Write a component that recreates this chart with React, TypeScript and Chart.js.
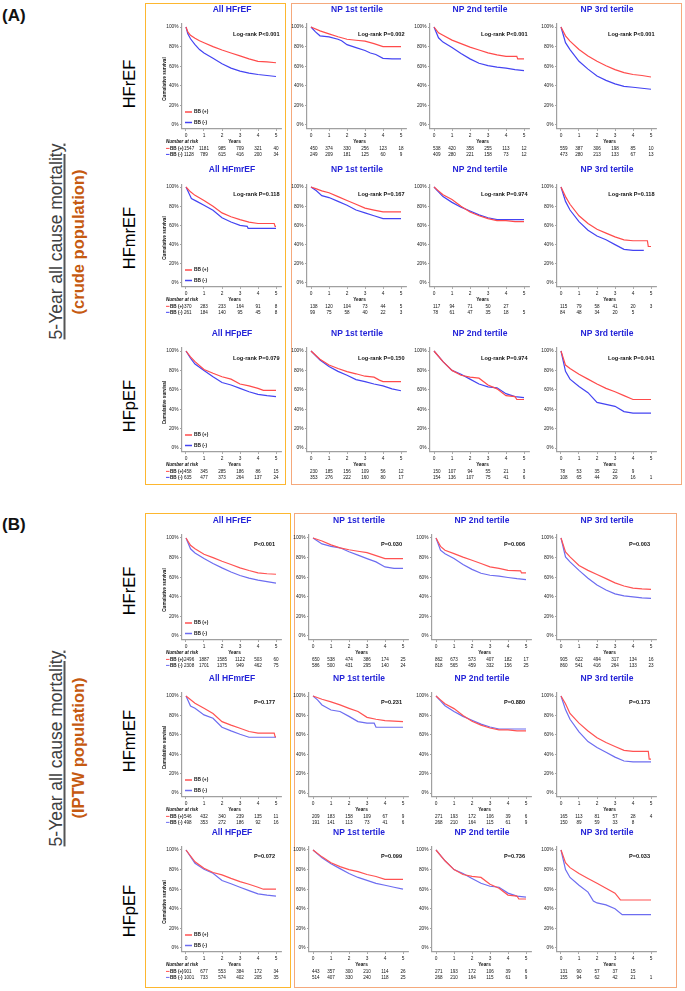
import React, { useEffect, useRef } from 'react';
import { Chart, registerables } from 'chart.js';
Chart.register(...registerables);

const FONT = 'Arial, "Liberation Sans", Helvetica, sans-serif';
const years = [0, 1, 2, 3, 4, 5];
const yTickValues = [0, 0.2, 0.4, 0.6, 0.8, 1];
const groupLabels = ['BB (+)', 'BB (-)'];
const rowLabels = ['HFrEF', 'HFmrEF', 'HFpEF'];
const panelTitles = [
  ['All HFrEF', 'NP 1st tertile', 'NP 2nd tertile', 'NP 3rd tertile'],
  ['All HFmrEF', 'NP 1st tertile', 'NP 2nd tertile', 'NP 3rd tertile'],
  ['All HFpEF', 'NP 1st tertile', 'NP 2nd tertile', 'NP 3rd tertile'],
];
const pValuesCrude = [
  ['P<0.001', 'P=0.002', 'P<0.001', 'P<0.001'],
  ['P=0.118', 'P=0.167', 'P=0.974', 'P=0.118'],
  ['P=0.079', 'P=0.150', 'P=0.974', 'P=0.041'],
];
const pValuesIptw = [
  ['P<0.001', 'P=0.030', 'P=0.006', 'P=0.003'],
  ['P=0.177', 'P=0.231', 'P=0.880', 'P=0.173'],
  ['P=0.072', 'P=0.099', 'P=0.736', 'P=0.033'],
];

type Pt = [number, number];
// ---- crude population curves (years, survival) ----
const crudeRefAllPos: Pt[] = [[0,1],[0.1,0.95],[0.25,0.915],[0.5,0.885],[0.75,0.86],[1,0.84],[1.5,0.8],[2,0.765],[2.5,0.735],[3,0.705],[3.5,0.675],[4,0.65],[4.5,0.645],[5,0.635]];
const crudeRefAllNeg: Pt[] = [[0,1],[0.1,0.93],[0.25,0.88],[0.5,0.82],[0.75,0.77],[1,0.735],[1.5,0.68],[2,0.625],[2.5,0.58],[3,0.55],[3.5,0.53],[4,0.515],[4.5,0.505],[5,0.495]];
const crudeRefNp1Pos: Pt[] = [[0,1],[0.5,0.96],[1,0.93],[1.5,0.9],[2,0.875],[2.5,0.865],[3,0.855],[3.5,0.83],[4,0.8],[5,0.8]];
const crudeRefNp1Neg: Pt[] = [[0,1],[0.25,0.95],[0.5,0.91],[1,0.9],[1.5,0.875],[1.7,0.86],[2,0.82],[2.5,0.79],[3,0.76],[3.3,0.735],[3.6,0.72],[4,0.68],[4.5,0.675],[5,0.675]];
const crudeRefNp2Pos: Pt[] = [[0,1],[0.25,0.94],[0.5,0.915],[1,0.866],[1.5,0.83],[2,0.795],[2.5,0.765],[3,0.736],[3.5,0.715],[4,0.7],[4.6,0.7],[4.65,0.675],[5,0.675]];
const crudeRefNp2Neg: Pt[] = [[0,1],[0.25,0.89],[0.5,0.846],[1,0.79],[1.5,0.73],[2,0.675],[2.5,0.63],[3,0.606],[3.5,0.59],[4,0.58],[4.5,0.565],[5,0.555]];
const crudeRefNp3Pos: Pt[] = [[0,1],[0.25,0.91],[0.5,0.856],[1,0.77],[1.5,0.705],[2,0.65],[2.5,0.605],[3,0.565],[3.5,0.535],[4,0.515],[4.5,0.505],[5,0.49]];
const crudeRefNp3Neg: Pt[] = [[0,1],[0.25,0.84],[0.5,0.77],[1,0.65],[1.5,0.57],[2,0.5],[2.5,0.455],[3,0.42],[3.5,0.395],[4,0.385],[4.5,0.375],[5,0.365]];

const crudeMrAllPos: Pt[] = [[0,1],[0.25,0.95],[0.5,0.913],[1,0.86],[1.5,0.8],[2,0.73],[2.5,0.69],[3,0.66],[3.5,0.635],[4,0.62],[4.9,0.62],[4.95,0.59],[5,0.59]];
const crudeMrAllNeg: Pt[] = [[0,1],[0.3,0.88],[0.6,0.85],[1,0.81],[1.5,0.757],[2,0.68],[2.5,0.635],[3,0.6],[3.4,0.59],[3.45,0.57],[5,0.57]];
const crudeMrNp1Pos: Pt[] = [[0,1],[0.3,0.98],[0.6,0.96],[1,0.94],[1.5,0.9],[2,0.86],[2.5,0.82],[3,0.78],[3.5,0.76],[4,0.74],[5,0.74]];
const crudeMrNp1Neg: Pt[] = [[0,1],[0.3,0.96],[0.6,0.91],[1,0.89],[1.5,0.85],[2,0.81],[2.5,0.76],[3,0.73],[3.5,0.7],[4,0.67],[5,0.67]];
const crudeMrNp2Pos: Pt[] = [[0,1],[0.25,0.96],[0.5,0.92],[1,0.87],[1.5,0.8],[2,0.74],[2.5,0.7],[3,0.67],[3.5,0.65],[4,0.65],[4.5,0.64],[5,0.64]];
const crudeMrNp2Neg: Pt[] = [[0,1],[0.25,0.95],[0.5,0.9],[1,0.84],[1.5,0.79],[2,0.75],[2.5,0.71],[3,0.68],[3.5,0.66],[4,0.66],[5,0.66]];
const crudeMrNp3Pos: Pt[] = [[0,1],[0.25,0.9],[0.5,0.82],[1,0.7],[1.5,0.62],[2,0.56],[2.5,0.52],[3,0.48],[3.5,0.45],[4,0.44],[4.8,0.44],[4.85,0.38],[5,0.38]];
const crudeMrNp3Neg: Pt[] = [[0,1],[0.25,0.85],[0.5,0.76],[1,0.64],[1.5,0.55],[2,0.49],[2.5,0.45],[3,0.4],[3.5,0.35],[4,0.34],[4.6,0.34]];

const crudePefAllPos: Pt[] = [[0,1],[0.25,0.94],[0.5,0.89],[1,0.81],[1.5,0.77],[2,0.735],[2.5,0.71],[3,0.66],[3.5,0.64],[4,0.615],[4.3,0.595],[5,0.595]];
const crudePefAllNeg: Pt[] = [[0,1],[0.25,0.925],[0.5,0.866],[1,0.8],[1.5,0.735],[2,0.675],[2.5,0.65],[3,0.615],[3.5,0.58],[4,0.553],[4.5,0.54],[5,0.53]];
const crudePefNp1Pos: Pt[] = [[0,1],[0.5,0.915],[1,0.856],[1.5,0.82],[2,0.787],[2.5,0.765],[3,0.74],[3.5,0.73],[3.8,0.7],[4,0.684],[5,0.684]];
const crudePefNp1Neg: Pt[] = [[0,1],[0.5,0.907],[1,0.84],[1.5,0.79],[2,0.75],[2.5,0.705],[3,0.684],[3.5,0.66],[4,0.64],[4.5,0.61],[5,0.59]];
const crudePefNp2Pos: Pt[] = [[0,1],[0.5,0.89],[1,0.8],[1.5,0.75],[2,0.73],[2.5,0.72],[3,0.65],[3.5,0.61],[4,0.54],[4.5,0.53],[4.6,0.5],[5,0.5]];
const crudePefNp2Neg: Pt[] = [[0,1],[0.5,0.89],[1,0.8],[1.5,0.76],[2,0.71],[2.5,0.66],[3,0.63],[3.5,0.62],[4,0.56],[4.5,0.53],[5,0.52]];
const crudePefNp3Pos: Pt[] = [[0,1],[0.25,0.855],[0.5,0.82],[1,0.76],[1.5,0.71],[2,0.66],[2.5,0.615],[3,0.58],[3.5,0.54],[4,0.5],[5,0.5]];
const crudePefNp3Neg: Pt[] = [[0,1],[0.25,0.79],[0.5,0.71],[1,0.635],[1.5,0.57],[2,0.47],[2.5,0.45],[3,0.43],[3.5,0.375],[4,0.36],[5,0.36]];

// ---- IPTW population curves ----
const iptwRefAllPos: Pt[] = [[0,1],[0.25,0.925],[0.5,0.89],[1,0.834],[1.5,0.8],[2,0.763],[2.5,0.73],[3,0.695],[3.5,0.668],[4,0.644],[4.5,0.635],[5,0.63]];
const iptwRefAllNeg: Pt[] = [[0,1],[0.25,0.89],[0.5,0.847],[1,0.79],[1.5,0.74],[2,0.695],[2.5,0.653],[3,0.617],[3.5,0.59],[4,0.57],[4.5,0.555],[5,0.54]];
const iptwRefNp1Pos: Pt[] = [[0,1],[0.5,0.97],[1,0.93],[1.5,0.9],[2,0.88],[2.5,0.865],[3,0.85],[3.5,0.82],[4,0.79],[5,0.79]];
const iptwRefNp1Neg: Pt[] = [[0,1],[0.25,0.97],[0.5,0.94],[1,0.915],[1.5,0.9],[2,0.86],[2.5,0.825],[3,0.79],[3.5,0.756],[4,0.705],[4.5,0.69],[5,0.69]];
const iptwRefNp2Pos: Pt[] = [[0,1],[0.25,0.915],[0.5,0.875],[1,0.84],[1.5,0.805],[2,0.773],[2.5,0.74],[3,0.705],[3.5,0.69],[4,0.67],[4.7,0.665],[4.75,0.644],[5,0.644]];
const iptwRefNp2Neg: Pt[] = [[0,1],[0.25,0.875],[0.5,0.84],[1,0.79],[1.5,0.73],[2,0.68],[2.5,0.64],[3,0.62],[3.5,0.61],[4,0.597],[4.5,0.585],[5,0.576]];
const iptwRefNp3Pos: Pt[] = [[0,1],[0.25,0.858],[0.5,0.807],[1,0.72],[1.5,0.67],[2,0.627],[2.5,0.585],[3,0.542],[3.5,0.51],[4,0.488],[4.5,0.48],[5,0.475]];
const iptwRefNp3Neg: Pt[] = [[0,1],[0.25,0.807],[0.5,0.756],[1,0.67],[1.5,0.59],[2,0.52],[2.5,0.47],[3,0.43],[3.5,0.41],[4,0.4],[4.5,0.39],[5,0.383]];

const iptwMrAllPos: Pt[] = [[0,1],[0.5,0.925],[1,0.873],[1.5,0.82],[2,0.736],[2.5,0.7],[3,0.668],[3.5,0.634],[4,0.617],[4.9,0.617],[4.95,0.58],[5,0.58]];
const iptwMrAllNeg: Pt[] = [[0,1],[0.25,0.897],[0.5,0.873],[1,0.805],[1.5,0.77],[2,0.678],[2.5,0.64],[3,0.606],[3.5,0.575],[5,0.575]];
const iptwMrNp1Pos: Pt[] = [[0,1],[0.5,0.966],[1,0.94],[1.5,0.908],[2,0.873],[2.5,0.84],[3,0.78],[3.5,0.76],[4,0.747],[5,0.736]];
const iptwMrNp1Neg: Pt[] = [[0,1],[0.25,0.96],[0.5,0.908],[1,0.856],[1.5,0.84],[2,0.79],[2.5,0.736],[3,0.72],[3.4,0.72],[3.5,0.678],[5,0.678]];
const iptwMrNp2Pos: Pt[] = [[0,1],[0.25,0.96],[0.5,0.92],[1,0.87],[1.5,0.8],[2,0.74],[2.5,0.7],[3,0.67],[3.5,0.65],[4,0.65],[4.5,0.64],[5,0.64]];
const iptwMrNp2Neg: Pt[] = [[0,1],[0.25,0.95],[0.5,0.9],[1,0.84],[1.5,0.79],[2,0.75],[2.5,0.71],[3,0.68],[3.5,0.66],[4,0.66],[5,0.66]];
const iptwMrNp3Pos: Pt[] = [[0,1],[0.25,0.92],[0.5,0.82],[1,0.72],[1.5,0.64],[2,0.57],[2.5,0.52],[3,0.48],[3.5,0.44],[4,0.43],[4.85,0.43],[4.9,0.35],[5,0.35]];
const iptwMrNp3Neg: Pt[] = [[0,1],[0.25,0.86],[0.5,0.76],[1,0.63],[1.5,0.53],[2,0.47],[2.5,0.42],[3,0.37],[3.5,0.33],[4,0.32],[5,0.32]];

const iptwPefAllPos: Pt[] = [[0,1],[0.5,0.88],[1,0.814],[1.5,0.77],[2,0.746],[2.5,0.71],[3,0.678],[3.5,0.65],[4,0.62],[4.3,0.6],[5,0.6]];
const iptwPefAllNeg: Pt[] = [[0,1],[0.5,0.864],[1,0.803],[1.5,0.763],[2,0.688],[2.5,0.655],[3,0.62],[3.5,0.586],[4,0.553],[4.5,0.54],[5,0.53]];
const iptwPefNp1Pos: Pt[] = [[0,1],[0.5,0.93],[1,0.87],[1.5,0.83],[2,0.8],[2.5,0.78],[3,0.75],[3.5,0.73],[4,0.7],[5,0.7]];
const iptwPefNp1Neg: Pt[] = [[0,1],[0.5,0.92],[1,0.86],[1.5,0.81],[2,0.76],[2.5,0.72],[3,0.69],[3.5,0.66],[4,0.64],[4.5,0.62],[5,0.6]];
const iptwPefNp2Pos: Pt[] = [[0,1],[0.5,0.89],[1,0.8],[1.5,0.75],[2,0.73],[2.5,0.72],[3,0.65],[3.5,0.61],[4,0.54],[4.5,0.53],[4.6,0.5],[5,0.5]];
const iptwPefNp2Neg: Pt[] = [[0,1],[0.5,0.89],[1,0.8],[1.5,0.76],[2,0.71],[2.5,0.66],[3,0.63],[3.5,0.62],[4,0.56],[4.5,0.53],[5,0.52]];
const iptwPefNp3Pos: Pt[] = [[0,1],[0.25,0.87],[0.5,0.82],[1,0.76],[1.5,0.71],[2,0.66],[2.5,0.61],[3,0.56],[3.3,0.49],[5,0.49]];
const iptwPefNp3Neg: Pt[] = [[0,1],[0.25,0.8],[0.5,0.72],[1,0.64],[1.5,0.57],[1.8,0.48],[2,0.46],[2.5,0.44],[3,0.4],[3.4,0.34],[5,0.34]];

// ---- numbers at risk (BB+ row, BB- row) ----
type Risk = (number | null)[][];
const crudeRefAllRisk: Risk = [[1547,1181,985,709,321,40],[1128,789,615,416,200,34]];
const crudeRefNp1Risk: Risk = [[450,374,330,256,123,18],[249,209,181,125,60,9]];
const crudeRefNp2Risk: Risk = [[538,420,358,255,113,12],[409,280,221,158,73,12]];
const crudeRefNp3Risk: Risk = [[559,387,306,198,85,10],[473,280,213,133,67,13]];
const crudeMrAllRisk: Risk = [[370,283,233,164,91,8],[261,184,140,95,45,8]];
const crudeMrNp1Risk: Risk = [[138,120,104,73,44,5],[99,75,58,40,22,3]];
const crudeMrNp2Risk: Risk = [[117,94,71,50,27,null],[78,61,47,35,18,5]];
const crudeMrNp3Risk: Risk = [[115,79,58,41,20,3],[84,48,34,20,5,null]];
const crudePefAllRisk: Risk = [[458,345,285,186,86,15],[635,477,373,264,137,24]];
const crudePefNp1Risk: Risk = [[230,185,156,109,56,12],[353,276,222,160,80,17]];
const crudePefNp2Risk: Risk = [[150,107,94,55,21,3],[154,136,107,75,41,6]];
const crudePefNp3Risk: Risk = [[78,53,35,22,9,null],[108,65,44,29,16,1]];
const iptwRefAllRisk: Risk = [[2496,1887,1585,1122,503,60],[2308,1701,1375,949,462,75]];
const iptwRefNp1Risk: Risk = [[650,538,474,386,174,25],[586,500,431,295,140,24]];
const iptwRefNp2Risk: Risk = [[862,673,573,407,182,17],[818,565,459,332,156,25]];
const iptwRefNp3Risk: Risk = [[905,622,494,317,134,16],[860,541,416,264,133,23]];
const iptwMrAllRisk: Risk = [[546,432,340,239,135,11],[498,353,272,186,92,16]];
const iptwMrNp1Risk: Risk = [[209,183,158,109,67,9],[191,141,113,73,41,6]];
const iptwMrNp2Risk: Risk = [[271,193,172,106,39,6],[268,210,164,115,61,9]];
const iptwMrNp3Risk: Risk = [[165,113,81,57,28,4],[150,89,59,33,8,null]];
const iptwPefAllRisk: Risk = [[901,677,553,384,172,34],[1001,733,574,402,205,35]];
const iptwPefNp1Risk: Risk = [[443,357,300,210,114,26],[514,407,330,240,118,25]];
const iptwPefNp2Risk: Risk = [[271,193,172,106,39,6],[268,210,164,115,61,9]];
const iptwPefNp3Risk: Risk = [[131,90,57,37,15,null],[155,94,62,42,21,1]];

const crudeCurves: Pt[][][][] = [
  [[crudeRefAllPos, crudeRefAllNeg], [crudeRefNp1Pos, crudeRefNp1Neg], [crudeRefNp2Pos, crudeRefNp2Neg], [crudeRefNp3Pos, crudeRefNp3Neg]],
  [[crudeMrAllPos, crudeMrAllNeg], [crudeMrNp1Pos, crudeMrNp1Neg], [crudeMrNp2Pos, crudeMrNp2Neg], [crudeMrNp3Pos, crudeMrNp3Neg]],
  [[crudePefAllPos, crudePefAllNeg], [crudePefNp1Pos, crudePefNp1Neg], [crudePefNp2Pos, crudePefNp2Neg], [crudePefNp3Pos, crudePefNp3Neg]],
];
const iptwCurves: Pt[][][][] = [
  [[iptwRefAllPos, iptwRefAllNeg], [iptwRefNp1Pos, iptwRefNp1Neg], [iptwRefNp2Pos, iptwRefNp2Neg], [iptwRefNp3Pos, iptwRefNp3Neg]],
  [[iptwMrAllPos, iptwMrAllNeg], [iptwMrNp1Pos, iptwMrNp1Neg], [iptwMrNp2Pos, iptwMrNp2Neg], [iptwMrNp3Pos, iptwMrNp3Neg]],
  [[iptwPefAllPos, iptwPefAllNeg], [iptwPefNp1Pos, iptwPefNp1Neg], [iptwPefNp2Pos, iptwPefNp2Neg], [iptwPefNp3Pos, iptwPefNp3Neg]],
];
const crudeRisks: Risk[][] = [
  [crudeRefAllRisk, crudeRefNp1Risk, crudeRefNp2Risk, crudeRefNp3Risk],
  [crudeMrAllRisk, crudeMrNp1Risk, crudeMrNp2Risk, crudeMrNp3Risk],
  [crudePefAllRisk, crudePefNp1Risk, crudePefNp2Risk, crudePefNp3Risk],
];
const iptwRisks: Risk[][] = [
  [iptwRefAllRisk, iptwRefNp1Risk, iptwRefNp2Risk, iptwRefNp3Risk],
  [iptwMrAllRisk, iptwMrNp1Risk, iptwMrNp2Risk, iptwMrNp3Risk],
  [iptwPefAllRisk, iptwPefNp1Risk, iptwPefNp2Risk, iptwPefNp3Risk],
];

// ---- layout ----
const XMIN = -0.22, XMAX = 5.33, YMIN = -0.04, YMAX = 1.03;
const SECTIONS = [
  {
    key: 'A', curves: crudeCurves, risks: crudeRisks, pvals: pValuesCrude, logrank: true,
    x0: [186, 311, 434, 561], x5: [276, 401, 524, 651],
    y100: [27, 187, 351], y0: [125, 283, 448],
    red: '#ff4b4b', blue: '#4444f2', pDx: 3.5, pDy: 7,
  },
  {
    key: 'B', curves: iptwCurves, risks: iptwRisks, pvals: pValuesIptw, logrank: false,
    x0: [186, 313, 436, 561], x5: [276, 403, 526, 651],
    y100: [538, 696, 850], y0: [636, 793, 948],
    red: '#ff5252', blue: '#6d6df0', pDx: -1, pDy: 6,
  },
];
const TITLE_BLUE = '#2424d8';

function Panel({ s, r, c }: { s: number; r: number; c: number }) {
  const ref = useRef<HTMLCanvasElement>(null);
  const sec = SECTIONS[s];
  const x0 = sec.x0[c], x5 = sec.x5[c], y100 = sec.y100[r], y0 = sec.y0[r];
  const kx = (x5 - x0) / 5, ky = y0 - y100;
  const caL = x0 + XMIN * kx, caR = x0 + XMAX * kx;
  const caT = y0 - YMAX * ky, caB = y0 - YMIN * ky;
  const left = c === 0 ? 146 : Math.round(caL) - 22;
  const top = Math.round(caT) - 22;
  const right = Math.round(caR) + 6;
  const bottom = Math.round(caB) + 30;
  const W = right - left, H = bottom - top;

  useEffect(() => {
    const canvas = ref.current!;
    const [pos, neg] = sec.curves[r][c];
    const risk = sec.risks[r][c];
    const title = panelTitles[r][c];
    const pText = (sec.logrank ? 'Log-rank ' : '') + sec.pvals[r][c];
    const colors = [sec.red, sec.blue];
    const decor = {
      id: 'decor',
      afterDraw(chart: any) {
        const { ctx, chartArea: ca } = chart;
        const xs = chart.scales.x, ys = chart.scales.y;
        const px = (t: number) => xs.getPixelForValue(t);
        const py = (v: number) => ys.getPixelForValue(v);
        const mid = (px(0) + px(5)) / 2;
        ctx.save();
        ctx.textBaseline = 'middle';
        ctx.fillStyle = TITLE_BLUE;
        ctx.textAlign = 'center';
        ctx.font = `bold 8.5px ${FONT}`;
        ctx.fillText(title, mid + 1, py(1) - 17.5);
        ctx.fillStyle = '#111';
        ctx.textAlign = 'right';
        ctx.font = `bold 5.6px ${FONT}`;
        ctx.fillText(pText, px(5) + sec.pDx, py(1) + sec.pDy);
        ctx.textAlign = 'center';
        ctx.font = `bold 4.7px ${FONT}`;
        ctx.fillText('Years', mid + 3.5, ca.bottom + 13);
        ctx.font = `4.6px ${FONT}`;
        risk.forEach((row, i) => {
          const yy = ca.bottom + 19.5 + 6 * i;
          row.forEach((n, j) => {
            if (n == null) return;
            if (j === 0) {
              ctx.textAlign = 'left';
              ctx.fillText(String(n), px(0) - (c === 0 ? 2 : 1), yy);
            } else {
              ctx.textAlign = 'center';
              ctx.fillText(String(n), px(years[j]), yy);
            }
          });
        });
        if (c === 0) {
          // legend inside plot
          groupLabels.forEach((lab, i) => {
            const yy = py(0) - 13 + 10.5 * i;
            ctx.strokeStyle = colors[i];
            ctx.lineWidth = 1.5;
            ctx.beginPath();
            ctx.moveTo(px(0) - 1, yy);
            ctx.lineTo(px(0) + 6, yy);
            ctx.stroke();
            ctx.fillStyle = '#111';
            ctx.textAlign = 'left';
            ctx.font = `bold 4.8px ${FONT}`;
            ctx.fillText(lab, px(0) + 8, yy);
          });
          // risk table labels
          ctx.font = `italic bold 4.6px ${FONT}`;
          ctx.fillStyle = '#111';
          ctx.textAlign = 'left';
          ctx.fillText('Number at risk', px(0) - 20, ca.bottom + 13);
          groupLabels.forEach((lab, i) => {
            const yy = ca.bottom + 19.5 + 6 * i;
            ctx.strokeStyle = colors[i];
            ctx.lineWidth = 1;
            ctx.beginPath();
            ctx.moveTo(px(0) - 20, yy);
            ctx.lineTo(px(0) - 16.5, yy);
            ctx.stroke();
            ctx.font = `bold 4.6px ${FONT}`;
            ctx.fillText(lab, px(0) - 16, yy);
          });
          // y axis title
          ctx.save();
          ctx.translate(px(0) - 21, (py(0) + py(1)) / 2 + 3);
          ctx.rotate(-Math.PI / 2);
          ctx.textAlign = 'center';
          ctx.font = `bold 4.6px ${FONT}`;
          ctx.fillText('Cumulative survival', 0, 0);
          ctx.restore();
        }
        ctx.restore();
      },
    };
    const mk = (pts: Pt[], i: number) => ({
      label: groupLabels[i],
      data: pts.map(([t, v]) => ({ x: t, y: v })),
      borderColor: colors[i],
      backgroundColor: colors[i],
      borderWidth: 1.2,
      pointRadius: 0,
      tension: 0,
      fill: false,
    });
    const tickFont = { size: 4.8, family: FONT };
    const chart = new Chart(canvas, {
      type: 'line',
      data: { datasets: [mk(pos, 0), mk(neg, 1)] },
      options: {
        animation: false,
        responsive: false,
        maintainAspectRatio: false,
        devicePixelRatio: 1,
        events: [],
        layout: { padding: { left: 0, top: caT - top, right: right - caR, bottom: 0 } },
        plugins: { legend: { display: false }, tooltip: { enabled: false }, title: { display: false } },
        scales: {
          x: {
            type: 'linear', min: XMIN, max: XMAX,
            afterBuildTicks: (sc: any) => { sc.ticks = years.map((v) => ({ value: v })); },
            afterFit: (sc: any) => { sc.height = bottom - caB; },
            ticks: { font: tickFont, color: '#222', padding: 1.5, maxRotation: 0, autoSkip: false },
            grid: { drawOnChartArea: false, drawTicks: true, tickLength: 2, color: '#888', lineWidth: 0.8 },
            border: { display: true, color: '#a0a0a0', width: 1.2 },
          },
          y: {
            type: 'linear', min: YMIN, max: YMAX,
            afterBuildTicks: (sc: any) => { sc.ticks = yTickValues.map((v) => ({ value: v })); },
            afterFit: (sc: any) => { sc.width = caL - left; },
            ticks: { font: tickFont, color: '#222', padding: 1.5, callback: (v: any) => `${Math.round(Number(v) * 100)}%` },
            grid: { drawOnChartArea: false, drawTicks: true, tickLength: 2, color: '#888', lineWidth: 0.8 },
            border: { display: true, color: '#a0a0a0', width: 1.2 },
          },
        },
      } as any,
      plugins: [decor],
    });
    return () => chart.destroy();
  }, []);

  return (
    <canvas
      ref={ref}
      width={W}
      height={H}
      style={{ position: 'absolute', left, top, width: W, height: H }}
    />
  );
}

function VText({ cx, cy, text, size, weight, color, underline }: any) {
  const w = 400, h = Math.round(size * 1.2);
  return (
    <div
      style={{
        position: 'absolute', left: cx - w / 2, top: cy - h / 2, width: w, height: h,
        lineHeight: `${h}px`, textAlign: 'center', fontSize: size, fontWeight: weight, color,
        fontFamily: FONT, transform: 'rotate(-90deg)', whiteSpace: 'nowrap',
        textDecoration: underline ? 'underline' : 'none',
        textDecorationColor: '#555', textDecorationThickness: '1.5px', textUnderlineOffset: '2px',
      }}
    >
      {text}
    </div>
  );
}

function Box({ l, t, r, b, color }: any) {
  return (
    <div style={{ position: 'absolute', left: l, top: t, width: r - l, height: b - t, border: `1.5px solid ${color}`, boxSizing: 'border-box' }} />
  );
}

const GOLD = '#fdb72f';
const SALMON = '#f5a97c';
const ORANGE = '#c55a11';

export default function App() {
  const rowCentersA = [84, 238, 406];
  const rowCentersB = [591, 741, 911];
  return (
    <div style={{ position: 'absolute', left: 0, top: 0, width: 685, height: 991, background: '#fff', overflow: 'hidden', fontFamily: FONT }}>
      <Box l={145} t={3} r={286} b={485} color={GOLD} />
      <Box l={291} t={3} r={682} b={485} color={SALMON} />
      <Box l={145} t={513} r={291} b={988} color={GOLD} />
      <Box l={294} t={513} r={677} b={988} color={SALMON} />
      <div style={{ position: 'absolute', left: 2, top: 6, fontSize: 17, fontWeight: 'bold', color: '#111' }}>(A)</div>
      <div style={{ position: 'absolute', left: 2, top: 515, fontSize: 17, fontWeight: 'bold', color: '#111' }}>(B)</div>
      {rowLabels.map((t, i) => (
        <VText key={'ra' + i} cx={128.5} cy={rowCentersA[i]} text={t} size={16.5} weight="normal" color="#000" />
      ))}
      {rowLabels.map((t, i) => (
        <VText key={'rb' + i} cx={128.5} cy={rowCentersB[i]} text={t} size={16.5} weight="normal" color="#000" />
      ))}
      <VText cx={56} cy={241.5} text="5-Year all cause mortality" size={17.5} weight="normal" color="#404040" underline />
      <VText cx={78} cy={241.5} text="(crude population)" size={16.5} weight="bold" color={ORANGE} />
      <VText cx={56} cy={748.5} text="5-Year all cause mortality" size={17.5} weight="normal" color="#404040" underline />
      <VText cx={78} cy={748} text="(IPTW population)" size={16.5} weight="bold" color={ORANGE} />
      {[0, 1].map((s) =>
        [0, 1, 2].map((r) =>
          [0, 1, 2, 3].map((c) => <Panel key={`${s}-${r}-${c}`} s={s} r={r} c={c} />)
        )
      )}
    </div>
  );
}
